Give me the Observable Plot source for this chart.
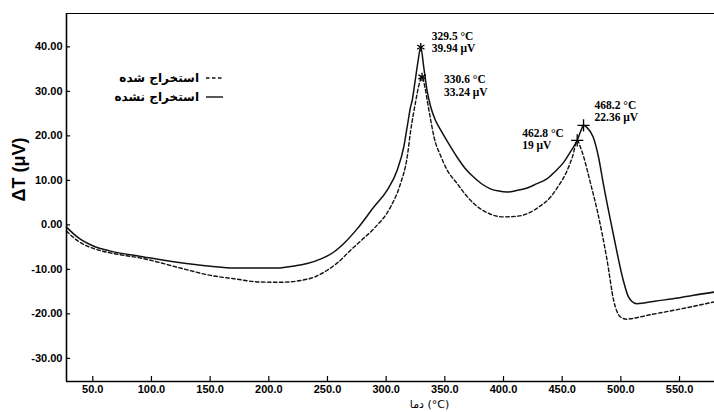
<!DOCTYPE html>
<html>
<head>
<meta charset="utf-8">
<script src="https://cdn.jsdelivr.net/npm/d3@7"></script>
<script src="https://cdn.jsdelivr.net/npm/@observablehq/plot@0.6"></script>
<style>
  html, body { margin: 0; padding: 0; background: #fff; }
  #wrap { position: relative; width: 714px; height: 412px; }
  #legend { position: absolute; left: 0; top: 0; width: 714px; height: 412px; pointer-events: none; }
</style>
</head>
<body>
<div id="wrap"></div>
<script>
// ---- Data ----
const solidT = [27.6, 36.7, 50.9, 65.1, 93.5, 121.9, 150.3, 170.2, 192.9, 207.1, 220, 232.7, 245, 255.4, 265, 275.3, 289.5, 300.9, 309.4, 315, 317.9, 320.8, 322.2, 324.5, 327, 329.5, 332, 335, 338, 342, 346.3, 352, 360.5, 367, 374.7, 381, 388.9, 396, 403.2, 411, 420.2, 428, 437.2, 444, 451.4, 457, 462.8, 466, 468.2, 471, 476.5, 481, 485, 493.5, 502.1, 506, 509, 513.5, 530, 544.7, 562, 579.8];
const solidV = [-0.5, -2.7, -4.8, -5.9, -7.2, -8.4, -9.3, -9.7, -9.7, -9.7, -9.3, -8.7, -7.6, -6.1, -3.9, -0.9, 4.0, 7.8, 12.3, 17.5, 22.0, 26.5, 28.0, 32.0, 36.5, 39.94, 35.5, 30.0, 26.5, 23.5, 21.4, 18.8, 15.2, 12.8, 10.7, 9.3, 8.1, 7.6, 7.4, 7.7, 8.3, 9.2, 10.4, 12.0, 14.1, 16.4, 19.0, 21.2, 22.36, 21.9, 19.7, 15.2, 9.3, -2.0, -12.5, -15.9, -17.1, -17.7, -17.1, -16.6, -15.8, -15.1];
const dashedT = [27.6, 36.7, 50.9, 65.1, 93.5, 121.9, 150.3, 170.2, 192.9, 210, 227.1, 240, 249.8, 260, 269.6, 280, 289.5, 303.7, 312.2, 317.9, 320.8, 325, 328, 330.6, 333, 335, 338, 341, 346.3, 352, 360.5, 367, 374.7, 388, 400.3, 410, 420.2, 430, 440.1, 447, 454.3, 459, 462.8, 465.5, 468.4, 474, 479.8, 488.3, 493.9, 499.7, 505, 508.2, 525, 545.1, 562, 579.8];
const dashedV = [-1.4, -3.5, -5.35, -6.3, -7.6, -9.5, -11.35, -12.1, -12.85, -12.9, -12.5, -11.6, -10.2, -8.2, -5.7, -3.2, -0.85, 4.0, 9.25, 15.2, 21.0, 27.5, 31.5, 33.24, 31.0, 28.0, 23.5, 19.5, 15.6, 12.3, 9.3, 7.0, 4.8, 2.5, 1.8, 1.9, 2.5, 4.0, 6.25, 8.8, 12.25, 15.5, 19.0, 17.5, 15.2, 9.5, 3.3, -8.0, -17.0, -20.7, -21.2, -21.1, -20.2, -19.2, -18.3, -17.3];

const peakT = [329.5, 330.6, 468.2, 462.8];
const peakV = [39.94, 33.24, 22.36, 19];
const peakLabels = ["329.5 °C\n39.94 μV", "330.6 °C\n33.24 μV", "468.2 °C\n22.36 μV", "462.8 °C\n19 μV"];
const peakSymbols = ["asterisk", "asterisk", "plus", "plus"];

const xTicks = [50, 100, 150, 200, 250, 300, 350, 400, 450, 500, 550];
const yTicks = [-30, -20, -10, 0, 10, 20, 30, 40];

const legendLabels = ["استخراج شده", "استخراج نشده"];
const xTitle = "دما (°C)";
const yTitle = "ΔT (μV)";

// ---- Build tables ----
const solid = solidT.map((t, i) => ({t, v: solidV[i]}));
const dashed = dashedT.map((t, i) => ({t, v: dashedV[i]}));
const peaks = peakT.map((t, i) => ({t, v: peakV[i], label: peakLabels[i], symbol: peakSymbols[i], i}));

const tickFont = {fontFamily: "Liberation Sans, Arial, sans-serif", fontWeight: "bold", fontSize: 11};
const annFont = {fontFamily: "Liberation Serif, Times New Roman, serif", fontWeight: "bold", fontSize: 11.5, fill: "#000", textAnchor: "start", lineHeight: 1.07};

const plot = Plot.plot({
  width: 714,
  height: 412,
  marginLeft: 66,
  marginRight: 0,
  marginTop: 13,
  marginBottom: 31,
  x: {domain: [27.6, 579.8], axis: null},
  y: {domain: [-35.2, 47.5], axis: null},
  style: {background: "#fff", color: "#000"},
  marks: [
    Plot.line(dashed, {x: "t", y: "v", stroke: "#111", strokeWidth: 1.4, strokeDasharray: "3.5,2.5", curve: "monotone-x"}),
    Plot.line(solid, {x: "t", y: "v", stroke: "#111", strokeWidth: 1.5, curve: "monotone-x"}),
    Plot.dot(peaks, {x: "t", y: "v", symbol: "symbol", r: 4, stroke: "#000", strokeWidth: 1.3}),
    Plot.text(peaks.filter(d => d.i === 0), {x: "t", y: "v", text: "label", dx: 11, dy: -5, ...annFont}),
    Plot.text(peaks.filter(d => d.i === 1), {x: "t", y: "v", text: "label", dx: 22, dy: 8.5, ...annFont}),
    Plot.text(peaks.filter(d => d.i === 2), {x: "t", y: "v", text: "label", dx: 11, dy: -14, ...annFont}),
    Plot.text(peaks.filter(d => d.i === 3), {x: "t", y: "v", text: "label", dx: -55, dy: -1, ...annFont}),
    Plot.axisY(yTicks, {anchor: "left", tickSize: -4, tickPadding: 8, tickFormat: d => d.toFixed(2), label: null, ...tickFont, strokeWidth: 1.2}),
    Plot.axisX(xTicks, {anchor: "bottom", tickSize: -5, tickPadding: 9, tickFormat: d => d.toFixed(1), label: null, ...tickFont, strokeWidth: 1.2}),
    Plot.ruleX([27.6], {stroke: "#000", strokeWidth: 1.6}),
    Plot.ruleY([-35.2], {stroke: "#000", strokeWidth: 1.6}),
    Plot.ruleY([47.5], {stroke: "#000", strokeWidth: 1.2}),
    Plot.text([yTitle], {frameAnchor: "left", rotate: -90, dx: -47, dy: 4, fontFamily: "Liberation Sans, Arial, sans-serif", fontWeight: "bold", fontSize: 18, fill: "#000"}),
    Plot.text([xTitle], {frameAnchor: "bottom", dx: 39, dy: 26, fontFamily: "DejaVu Sans, sans-serif", fontSize: 11, fill: "#000"})
  ]
});

const wrap = document.getElementById("wrap");
wrap.appendChild(plot);

// Legend overlay (RTL style: label, then line sample on its right)
const ns = "http://www.w3.org/2000/svg";
const lg = document.createElementNS(ns, "svg");
lg.setAttribute("id", "legend");
lg.setAttribute("width", 714);
lg.setAttribute("height", 412);
const legendDash = ["3.5,2.5", null];
legendLabels.forEach((lab, i) => {
  const y = 78 + i * 19;
  const line = document.createElementNS(ns, "line");
  line.setAttribute("x1", 206); line.setAttribute("x2", 223);
  line.setAttribute("y1", y); line.setAttribute("y2", y);
  line.setAttribute("stroke", "#111");
  line.setAttribute("stroke-width", 1.4);
  if (legendDash[i]) line.setAttribute("stroke-dasharray", legendDash[i]);
  lg.appendChild(line);
  const tx = document.createElementNS(ns, "text");
  tx.setAttribute("x", 199);
  tx.setAttribute("y", y);
  tx.setAttribute("text-anchor", "end");
  tx.setAttribute("dominant-baseline", "middle");
  tx.setAttribute("font-family", "DejaVu Sans, sans-serif");
  tx.setAttribute("font-weight", "bold");
  tx.setAttribute("font-size", 12);
  tx.textContent = lab;
  lg.appendChild(tx);
});
wrap.appendChild(lg);
</script>
</body>
</html>
